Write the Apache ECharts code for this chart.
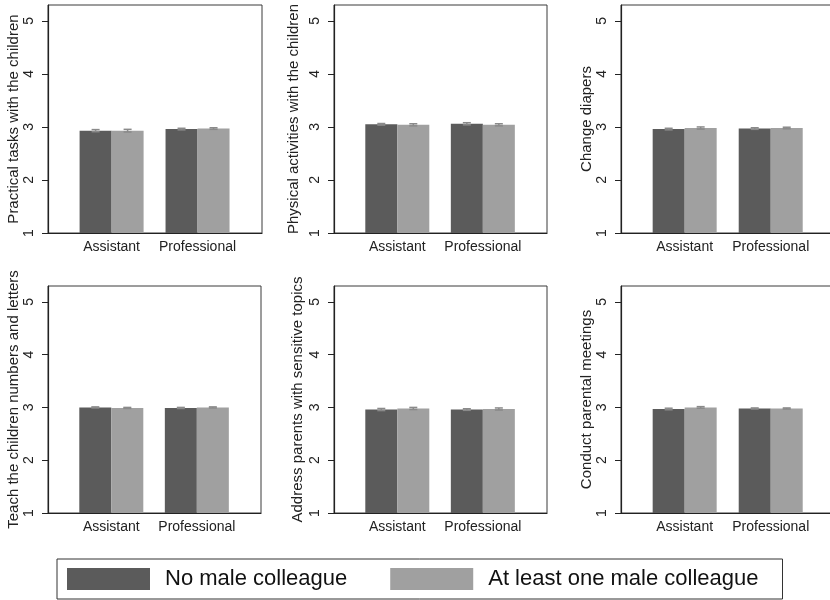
<!DOCTYPE html>
<html>
<head>
<meta charset="utf-8">
<script src="https://cdn.jsdelivr.net/npm/echarts@6/dist/echarts.min.js"></script>
<style>
  html, body { margin: 0; padding: 0; background: #fff; }
  #main { width: 830px; height: 600px; }
</style>
</head>
<body>
<div id="main"></div>
<script>
// categories on the x axis of every panel
const categories = ['Assistant', 'Professional']
const seriesNames = ['No male colleague', 'At least one male colleague']
const panelTitles = [
  'Practical tasks with the children',
  'Physical activities with the children',
  'Change diapers',
  'Teach the children numbers and letters',
  'Address parents with sensitive topics',
  'Conduct parental meetings'
]
// mean per panel: [Assistant, Professional]
const noMale = [
  [2.93, 2.96],
  [3.05, 3.06],
  [2.96, 2.97],
  [3.00, 2.99],
  [2.96, 2.96],
  [2.97, 2.98]
]
const atLeastOne = [
  [2.93, 2.97],
  [3.04, 3.04],
  [2.98, 2.98],
  [2.99, 3.00],
  [2.98, 2.97],
  [3.00, 2.98]
]
// half width of the confidence interval
const ciNoMale = [
  [0.02, 0.015],
  [0.015, 0.02],
  [0.015, 0.015],
  [0.01, 0.01],
  [0.02, 0.015],
  [0.015, 0.01]
]
const ciAtLeastOne = [
  [0.025, 0.015],
  [0.02, 0.02],
  [0.02, 0.015],
  [0.01, 0.01],
  [0.02, 0.02],
  [0.015, 0.01]
]
const yTicks = [1, 2, 3, 4, 5]

const DARK = '#5b5b5b'
const LIGHT = '#a0a0a0'
const FONT = '"Liberation Sans", Arial, sans-serif'
const BAR_W = 32

// panel boxes (left, top, width, height), x range end and y-title gap
const panels = [
  { left: 48, top: 5, width: 214, height: 228, xMax: 1.75, gap: 27 },
  { left: 334, top: 5, width: 213, height: 228, xMax: 1.75, gap: 33 },
  { left: 621, top: 5, width: 222, height: 228, xMax: 1.84, gap: 26 },
  { left: 48, top: 286, width: 213, height: 227, xMax: 1.75, gap: 27 },
  { left: 334, top: 286, width: 213, height: 227, xMax: 1.75, gap: 29 },
  { left: 621, top: 286, width: 222, height: 227, xMax: 1.84, gap: 26 }
]

const chart = echarts.init(document.getElementById('main'), null, { renderer: 'canvas' })

const grid = []
const xAxis = []
const yAxis = []
const series = []

/**
 * 误差线
 */
function errorBar(params, api) {
  const x = api.value(0)
  const lo = api.coord([x, api.value(1)])
  const hi = api.coord([x, api.value(2)])
  const off = (api.value(3) - 0.5) * BAR_W
  const cx = lo[0] + off
  const cap = 4
  const style = { stroke: '#8a8a8a', lineWidth: 1.5 }
  return {
    type: 'group',
    children: [
      { type: 'line', shape: { x1: cx, y1: lo[1], x2: cx, y2: hi[1] }, style },
      { type: 'line', shape: { x1: cx - cap, y1: hi[1], x2: cx + cap, y2: hi[1] }, style },
      { type: 'line', shape: { x1: cx - cap, y1: lo[1], x2: cx + cap, y2: lo[1] }, style }
    ]
  }
}

panels.forEach((p, i) => {
  grid.push({
    left: p.left, top: p.top, width: p.width, height: p.height,
    outerBoundsMode: 'none',
    show: true, borderColor: '#3a3a3a', borderWidth: 1, backgroundColor: '#fff'
  })
  xAxis.push({
    type: 'value', gridIndex: i, min: -0.74, max: p.xMax,
    axisLine: { show: true, onZero: false, lineStyle: { color: '#222', width: 1.2 } },
    axisTick: { show: false },
    splitLine: { show: false },
    axisLabel: {
      customValues: [0, 1],
      formatter: v => categories[Math.round(v)],
      color: '#222', fontSize: 14, fontFamily: FONT, margin: 7
    }
  })
  yAxis.push({
    type: 'value', gridIndex: i, min: 1, max: 5.3,
    name: panelTitles[i], nameLocation: 'middle', nameGap: p.gap,
    nameTextStyle: { color: '#222', fontSize: 15, fontFamily: FONT },
    axisLine: { show: true, onZero: false, lineStyle: { color: '#222', width: 1.2 } },
    axisTick: { show: true, customValues: yTicks, length: 6, lineStyle: { color: '#222' } },
    splitLine: { show: false },
    axisLabel: {
      customValues: yTicks, rotate: 90, margin: 12,
      color: '#222', fontSize: 14, fontFamily: FONT
    }
  })
  series.push({
    name: seriesNames[0], type: 'bar', xAxisIndex: i, yAxisIndex: i,
    barWidth: BAR_W, barGap: '0%',
    itemStyle: { color: DARK },
    data: categories.map((c, k) => [k, noMale[i][k]])
  })
  series.push({
    name: seriesNames[1], type: 'bar', xAxisIndex: i, yAxisIndex: i,
    barWidth: BAR_W, barGap: '0%',
    itemStyle: { color: LIGHT },
    data: categories.map((c, k) => [k, atLeastOne[i][k]])
  })
  const err = []
  categories.forEach((c, k) => {
    err.push([k, noMale[i][k] - ciNoMale[i][k], noMale[i][k] + ciNoMale[i][k], 0])
    err.push([k, atLeastOne[i][k] - ciAtLeastOne[i][k], atLeastOne[i][k] + ciAtLeastOne[i][k], 1])
  })
  series.push({
    type: 'custom', xAxisIndex: i, yAxisIndex: i, z: 5,
    renderItem: errorBar, data: err, silent: true
  })
})

chart.setOption({
  animation: false,
  backgroundColor: '#fff',
  grid, xAxis, yAxis, series,
  legend: {
    data: seriesNames,
    left: 57, top: 559,
    icon: 'rect', itemWidth: 83, itemHeight: 22, itemGap: 43,
    borderColor: '#333', borderWidth: 1,
    padding: [9, 24, 9, 10],
    textStyle: { color: '#111', fontSize: 22, fontFamily: FONT, padding: [0, 0, 0, 10] }
  }
})
</script>
</body>
</html>
